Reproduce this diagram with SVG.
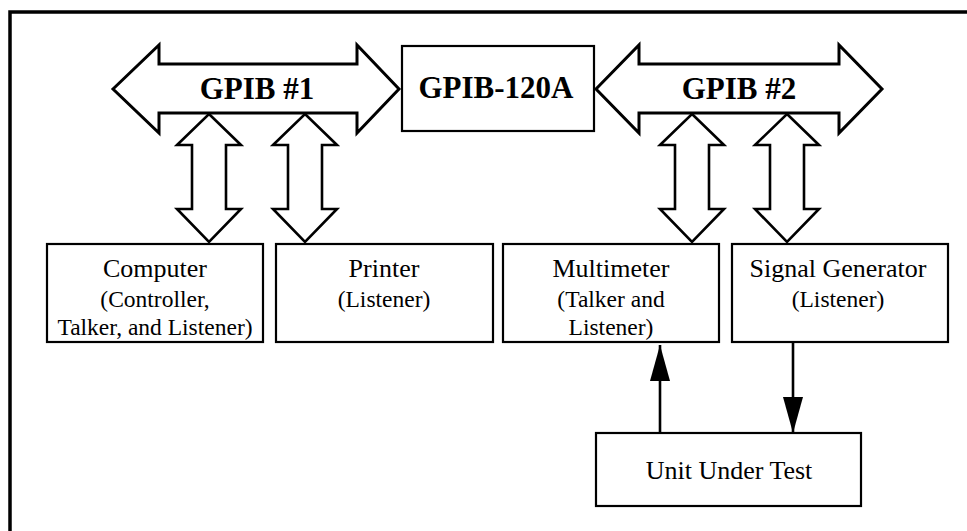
<svg xmlns="http://www.w3.org/2000/svg" xmlns:xlink="http://www.w3.org/1999/xlink" width="967" height="531" viewBox="0 0 967 531">
<style>
.frame{fill:none;stroke:#000;stroke-width:3.5}
.box{fill:#fff;stroke:#000;stroke-width:2.2}
.bus{fill:#fff;stroke:#000;stroke-width:3;stroke-linejoin:miter}
.dbl{fill:#fff;stroke:#000;stroke-width:2.6;stroke-linejoin:miter}
.wire{fill:none;stroke:#000;stroke-width:2.6}
.big{font-family:"Liberation Serif","Times New Roman",serif;font-weight:bold;font-size:31px;text-anchor:middle;fill:#000}
.t1{font-family:"Liberation Serif","Times New Roman",serif;font-size:26px;text-anchor:middle;fill:#000}
.t2{font-family:"Liberation Serif","Times New Roman",serif;font-size:23.5px;text-anchor:middle;fill:#000}
</style>
<defs>
<polygon id="vdbl" points="0,0 32,31 17,31 17,95 32,95 0,128 -32,95 -17,95 -17,31 -32,31"/>
<marker id="ah" viewBox="0 0 36 20" refX="36" refY="10" markerWidth="36" markerHeight="20" markerUnits="userSpaceOnUse" orient="auto">
<path d="M0,0 L36,10 L0,20 Z" fill="#000"/>
</marker>
</defs>
<rect width="967" height="531" fill="#fff"/>
<path class="frame" d="M10,531 V12 H967"/>

<g id="gpib1">
<polygon class="bus" points="113,89 159,45 159,64 357,64 357,45 399,89 357,133 357,113 159,113 159,133"/>
<text class="big" x="257" y="99">GPIB #1</text>
</g>
<g id="gpib120a">
<rect class="box" x="402" y="46" width="192" height="85"/>
<text class="big" x="496" y="98">GPIB-120A</text>
</g>
<g id="gpib2">
<polygon class="bus" points="596,89 639,45 639,64 839,64 839,45 882,89 839,133 839,113 639,113 639,133"/>
<text class="big" x="739" y="99">GPIB #2</text>
</g>

<g id="connectors">
<use xlink:href="#vdbl" class="dbl" x="209" y="114"/>
<use xlink:href="#vdbl" class="dbl" x="305" y="114"/>
<use xlink:href="#vdbl" class="dbl" x="692" y="114"/>
<use xlink:href="#vdbl" class="dbl" x="787" y="114"/>
<line class="wire" x1="660" y1="433" x2="660" y2="345" marker-end="url(#ah)"/>
<line class="wire" x1="793" y1="343" x2="793" y2="433" marker-end="url(#ah)"/>
</g>

<g id="computer">
<rect class="box" x="47" y="244" width="216" height="98"/>
<text class="t1" x="155" y="277">Computer</text>
<text class="t2" x="155" y="307">(Controller,</text>
<text class="t2" x="155" y="335">Talker, and Listener)</text>
</g>
<g id="printer">
<rect class="box" x="276" y="244" width="217" height="98"/>
<text class="t1" x="384" y="277">Printer</text>
<text class="t2" x="384" y="307">(Listener)</text>
</g>
<g id="multimeter">
<rect class="box" x="503" y="244" width="216" height="98"/>
<text class="t1" x="611" y="277">Multimeter</text>
<text class="t2" x="611" y="307">(Talker and</text>
<text class="t2" x="611" y="335">Listener)</text>
</g>
<g id="siggen">
<rect class="box" x="732" y="244" width="216" height="98"/>
<text class="t1" x="838" y="277">Signal Generator</text>
<text class="t2" x="838" y="307">(Listener)</text>
</g>
<g id="uut">
<rect class="box" x="596" y="433" width="265" height="73"/>
<text class="t1" x="729" y="479">Unit Under Test</text>
</g>
</svg>
